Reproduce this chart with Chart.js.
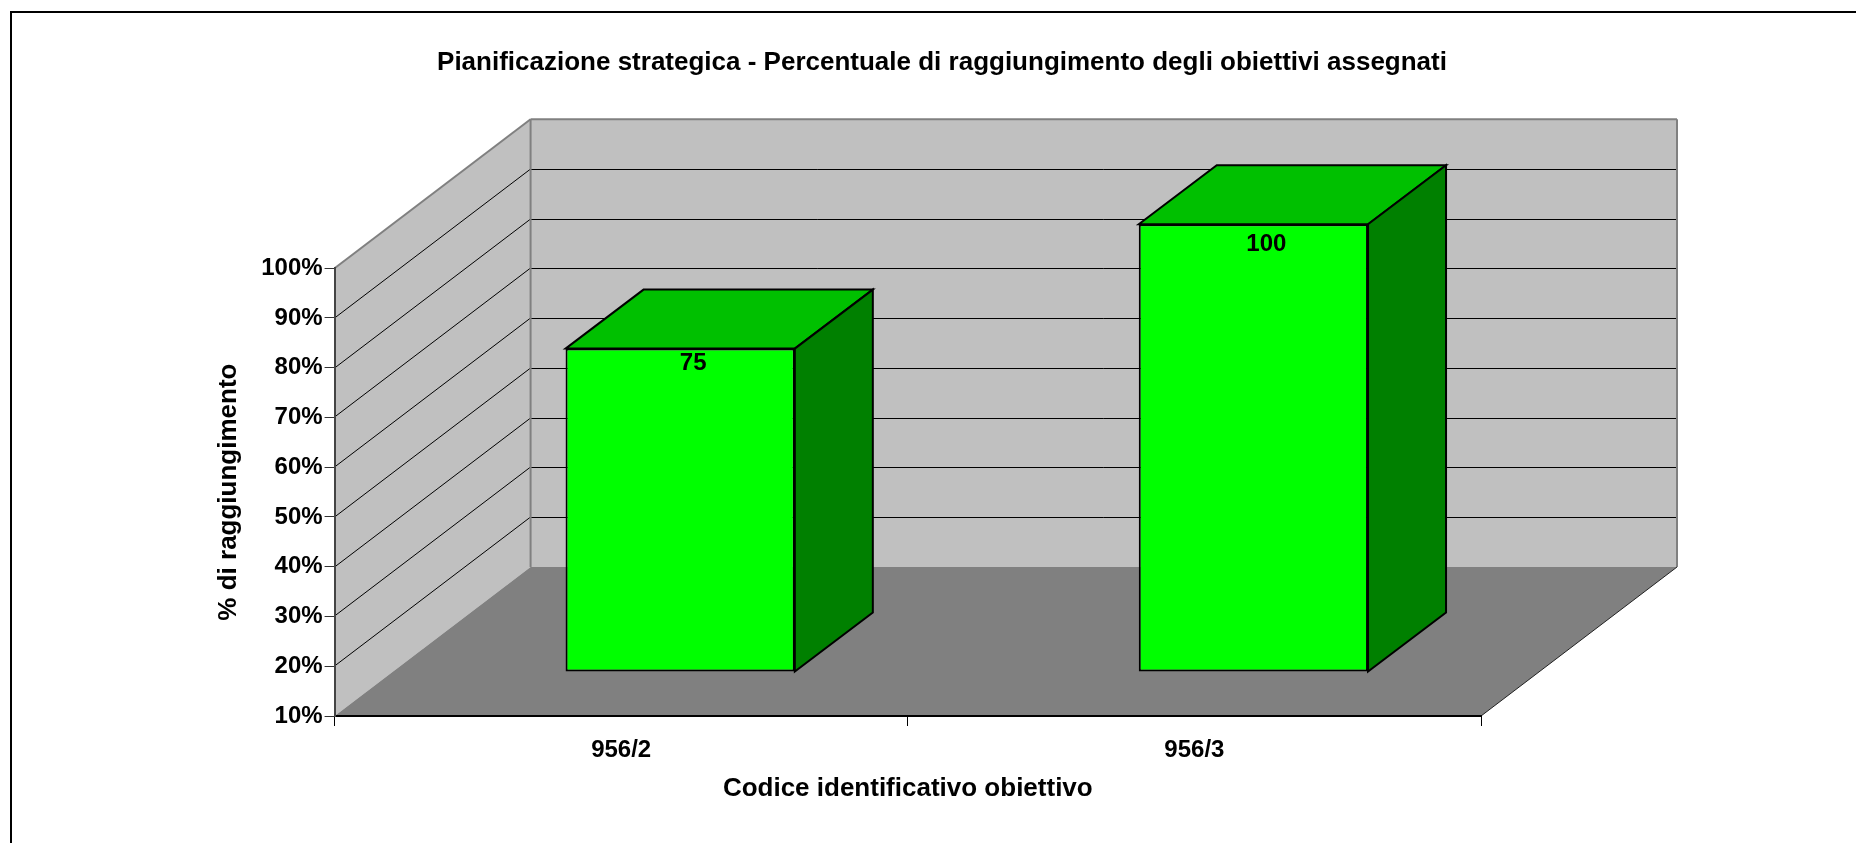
<!DOCTYPE html>
<html>
<head>
<meta charset="utf-8">
<style>html,body{margin:0;padding:0;background:#fff}canvas{display:block}</style>
<script src="https://cdn.jsdelivr.net/npm/chart.js@4/dist/chart.umd.min.js"></script>
</head>
<body>
<canvas id="c" width="1856" height="843"></canvas>
<script>
const categories = ['956/2', '956/3'];
const values = [75, 100];
const yMin = 10, yMax = 100, yStep = 10;
const titleText = 'Pianificazione strategica - Percentuale di raggiungimento degli obiettivi assegnati';
const xTitle = 'Codice identificativo obiettivo';
const yTitle = '% di raggiungimento';

const FONT = '"Liberation Sans", Arial, sans-serif';
const WALL = {dx: 196, dy: -149};     // full depth of the 3D box
const BAR_SHIFT = {dx: 59, dy: -44};  // bar front face inside the box
const BAR_DEPTH = {dx: 78, dy: -59};  // depth of one bar
const TITLE_CENTER = 942;

function poly(ctx, pts, fill, stroke, lw) {
  ctx.beginPath();
  pts.forEach((p, i) => i ? ctx.lineTo(p[0], p[1]) : ctx.moveTo(p[0], p[1]));
  ctx.closePath();
  if (fill) { ctx.fillStyle = fill; ctx.fill(); }
  if (stroke) { ctx.strokeStyle = stroke; ctx.lineWidth = lw; ctx.lineJoin = 'miter'; ctx.stroke(); }
}
function seg(ctx, x1, y1, x2, y2, color, lw) {
  ctx.beginPath(); ctx.moveTo(x1, y1); ctx.lineTo(x2, y2);
  ctx.strokeStyle = color; ctx.lineWidth = lw; ctx.stroke();
}

const box3d = {
  id: 'box3d',
  afterLayout(chart) {
    const t = chart.titleBlock;
    t.left = 0; t.right = TITLE_CENTER * 2;
  },
  beforeDraw(chart) {
    const {ctx, chartArea: a, scales: {y}} = chart;
    const d = WALL;
    ctx.save();
    ctx.fillStyle = '#fff'; ctx.fillRect(0, 0, chart.width, chart.height);
    // outer frame
    ctx.strokeStyle = '#000'; ctx.lineWidth = 2;
    ctx.strokeRect(11, 12, 1900, 1000);
    // back wall, side wall, floor
    poly(ctx, [[a.left + d.dx, a.top + d.dy], [a.right + d.dx, a.top + d.dy], [a.right + d.dx, a.bottom + d.dy], [a.left + d.dx, a.bottom + d.dy]], '#C0C0C0');
    poly(ctx, [[a.left, a.top], [a.left + d.dx, a.top + d.dy], [a.left + d.dx, a.bottom + d.dy], [a.left, a.bottom]], '#C0C0C0');
    poly(ctx, [[a.left, a.bottom], [a.left + d.dx, a.bottom + d.dy], [a.right + d.dx, a.bottom + d.dy], [a.right, a.bottom]], '#808080');
    // gridlines from the value scale
    y.ticks.forEach(t => {
      const py = Math.round(y.getPixelForValue(t.value));
      if (t.value === yMin || t.value === yMax) return;
      seg(ctx, a.left, py, a.left + d.dx, py + d.dy, '#000', 1);
      seg(ctx, a.left + d.dx, py + d.dy + .5, a.right + d.dx, py + d.dy + .5, '#000', 1);
    });
    // wall edges
    seg(ctx, a.left, a.top, a.left + d.dx, a.top + d.dy, '#808080', 2);
    seg(ctx, a.left + d.dx, a.top + d.dy, a.right + d.dx, a.top + d.dy, '#808080', 2);
    seg(ctx, a.left + d.dx, a.top + d.dy, a.left + d.dx, a.bottom + d.dy, '#808080', 2);
    seg(ctx, a.right + d.dx, a.top + d.dy, a.right + d.dx, a.bottom + d.dy, '#808080', 2);
    seg(ctx, a.right, a.bottom, a.right + d.dx, a.bottom + d.dy, '#222', 1);
    ctx.restore();
  },
  beforeDatasetsDraw(chart) {
    const {ctx} = chart;
    const meta = chart.getDatasetMeta(0);
    ctx.save();
    ctx.translate(BAR_SHIFT.dx, BAR_SHIFT.dy);
    meta.data.forEach(el => {
      const p = el.getProps(['x', 'y', 'base', 'width']);
      const l = p.x - p.width / 2, r = p.x + p.width / 2, t = p.y, b = p.base;
      const e = BAR_DEPTH;
      poly(ctx, [[l, t], [l + e.dx, t + e.dy], [r + e.dx, t + e.dy], [r, t]], '#00C000', '#000', 2);
      poly(ctx, [[r, t], [r + e.dx, t + e.dy], [r + e.dx, b + e.dy], [r, b]], '#008000', '#000', 2);
    });
  },
  afterDatasetsDraw(chart) {
    const {ctx} = chart;
    const meta = chart.getDatasetMeta(0);
    ctx.fillStyle = '#000';
    ctx.font = 'bold 24px ' + FONT;
    ctx.textAlign = 'center';
    ctx.textBaseline = 'middle';
    meta.data.forEach((el, i) => {
      const p = el.getProps(['x', 'y']);
      const v = values[i];
      ctx.fillText(String(v), p.x + 13, p.y + 15 + (v - 75) * 0.22);
    });
    ctx.restore();
  }
};

new Chart(document.getElementById('c'), {
  type: 'bar',
  data: {
    labels: categories,
    datasets: [{
      data: values,
      base: yMin,
      backgroundColor: '#00FF00',
      borderColor: '#000',
      borderWidth: 2,
      borderSkipped: false,
      categoryPercentage: 1,
      barPercentage: 0.4,
      clip: false
    }]
  },
  options: {
    responsive: false,
    animation: false,
    layout: {padding: {left: 213, right: 375, top: 0, bottom: 39}},
    plugins: {
      legend: {display: false},
      tooltip: {enabled: false},
      title: {
        display: true,
        text: titleText,
        color: '#000',
        font: {family: FONT, size: 26, weight: 'bold'},
        padding: {top: 47, bottom: 190}
      }
    },
    scales: {
      x: {
        border: {display: true, color: '#000', width: 2},
        grid: {drawOnChartArea: false, drawTicks: true, tickLength: 10, color: '#000', lineWidth: 1},
        ticks: {color: '#000', font: {family: FONT, size: 24, weight: 'bold'}, padding: 9.5, maxRotation: 0},
        title: {display: true, text: xTitle, color: '#000', font: {family: FONT, size: 26, weight: 'bold'}, padding: {top: -1, bottom: 0}}
      },
      y: {
        min: yMin,
        max: yMax,
        border: {display: true, color: '#444', width: 2},
        grid: {drawOnChartArea: false, drawTicks: true, tickLength: 10, color: '#333', lineWidth: 1},
        ticks: {
          stepSize: yStep,
          color: '#000',
          font: {family: FONT, size: 24, weight: 'bold'},
          padding: 2,
          callback: v => v + '%'
        },
        title: {display: true, text: yTitle, color: '#000', font: {family: FONT, size: 26, weight: 'bold'}, padding: {top: 0, bottom: 15}}
      }
    }
  },
  plugins: [box3d]
});
</script>
</body>
</html>
